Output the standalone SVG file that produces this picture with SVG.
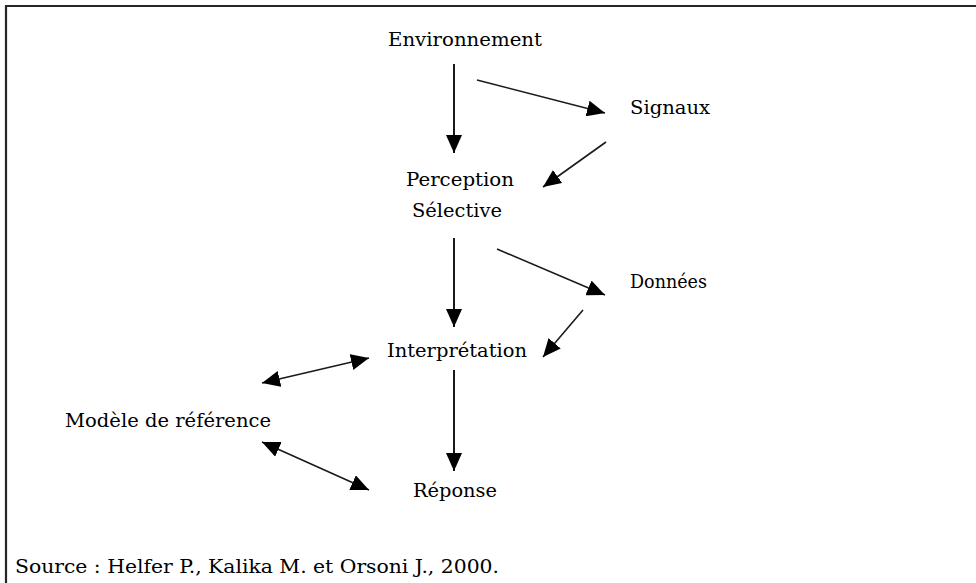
<svg xmlns="http://www.w3.org/2000/svg" width="976" height="583" viewBox="0 0 976 583">
  <defs>
    <style>
      .frame { fill: none; stroke: #262626; stroke-width: 2.2; }
      .label { font-family: "DejaVu Serif", "Liberation Serif", serif; font-size: 18px; fill: #000; }
      .edge { fill: none; stroke: #1a1a1a; stroke-width: 1.6; marker-end: url(#head); }
      .edge.both { marker-start: url(#head); }
      .edge.main { stroke-width: 2; }
    </style>
    <marker id="head" markerUnits="userSpaceOnUse" markerWidth="19" markerHeight="16" refX="18" refY="8" orient="auto-start-reverse" viewBox="0 0 19 16">
      <path d="M0,0 L18,8 L0,16 Z" fill="#000"/>
    </marker>
  </defs>
  <rect width="976" height="583" fill="#fff"/>

  <!-- open frame: top and left rules -->
  <path class="frame" d="M6,584 L6,6 L977,6"/>

  <g id="connectors">
    <path class="edge main" d="M454,64 L454,153"/>
    <path class="edge" d="M477,80 L605,113"/>
    <path class="edge" d="M606,142 L543,187"/>
    <path class="edge main" d="M454,238 L454,327"/>
    <path class="edge" d="M497,249 L605,295"/>
    <path class="edge" d="M583,310 L543,357"/>
    <path class="edge main" d="M454,370 L454,471"/>
    <path class="edge both" d="M262,383 L369,358"/>
    <path class="edge both" d="M262,442 L369,490"/>
  </g>

  <g id="environnement">
    <text class="label" x="388" y="46" textLength="154" lengthAdjust="spacingAndGlyphs">Environnement</text>
  </g>
  <g id="signaux">
    <text class="label" x="630" y="114" textLength="80" lengthAdjust="spacingAndGlyphs">Signaux</text>
  </g>
  <g id="perception">
    <text class="label" x="406" y="186" textLength="108" lengthAdjust="spacingAndGlyphs">Perception</text>
    <text class="label" x="412" y="217" textLength="90" lengthAdjust="spacingAndGlyphs">Sélective</text>
  </g>
  <g id="donnees">
    <text class="label" x="630" y="288" textLength="77" lengthAdjust="spacingAndGlyphs">Données</text>
  </g>
  <g id="interpretation">
    <text class="label" x="387" y="357" textLength="140" lengthAdjust="spacingAndGlyphs">Interprétation</text>
  </g>
  <g id="modele">
    <text class="label" x="65" y="427" textLength="206" lengthAdjust="spacingAndGlyphs">Modèle de référence</text>
  </g>
  <g id="reponse">
    <text class="label" x="413" y="497" textLength="84" lengthAdjust="spacingAndGlyphs">Réponse</text>
  </g>

  <text class="label" x="15" y="573" textLength="484" lengthAdjust="spacingAndGlyphs">Source : Helfer P., Kalika M. et Orsoni J., 2000.</text>
</svg>
